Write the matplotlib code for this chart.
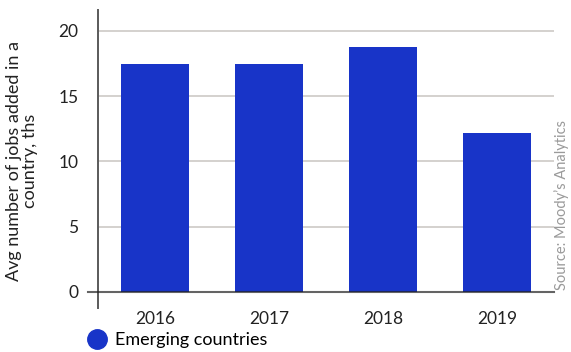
import matplotlib
matplotlib.use('Agg')
from matplotlib import pyplot as plt
from matplotlib.lines import Line2D

plt.rcParams['font.family'] = ['Lato', 'DejaVu Sans']

years = ['2016', '2017', '2018', '2019']
jobs_added = [17.5, 17.5, 18.8, 12.2]
y_ticks = [0, 5, 10, 15, 20]

bar_color = '#1834c8'
grid_color = '#c9c5c1'
axis_color = '#5a5a5a'

fig = plt.figure(figsize=(5.71, 3.52), dpi=100)
ax = fig.add_axes([0.1716, 0.125, 0.7984, 0.8466])

x = list(range(len(years)))
ax.bar(x, jobs_added, width=0.59, color=bar_color, zorder=2)

ax.set_xlim(-0.5, 3.5)
ax.set_ylim(-1.23, 21.6)

# horizontal grid, zero line on top of the bars and a bit past the spine
for v in y_ticks[1:]:
    ax.axhline(v, color=grid_color, lw=1.1, zorder=1)
ax.plot([-0.59, 3.5], [0, 0], color='#222222', alpha=0.7, lw=1.5,
        zorder=3, clip_on=False)

for s in ['top', 'right', 'bottom']:
    ax.spines[s].set_visible(False)
ax.spines['left'].set_color(axis_color)
ax.spines['left'].set_linewidth(1.4)

ax.set_yticks(y_ticks)
ax.set_xticks(x)
ax.set_xticklabels(years)
ax.tick_params(axis='y', length=0, pad=14, labelsize=12.5, labelcolor='#222222')
ax.tick_params(axis='x', length=0, pad=2, labelsize=12.5, labelcolor='#222222')

fig.text(0.038, 0.543, 'Avg number of jobs added in a\ncountry, ths', rotation=90,
         ha='center', va='center', fontsize=13, color='#222222', linespacing=1.0)
fig.text(0.983, 0.418, "Source: Moody\u2019s Analytics", rotation=90,
         ha='center', va='center', fontsize=10.5, color='#9a9a9a')

handle = Line2D([], [], marker='o', ls='none', markersize=14,
                markerfacecolor=bar_color, markeredgecolor=bar_color)
fig.legend([handle], ['Emerging countries'], loc='center left',
           bbox_to_anchor=(0.138, 0.034), frameon=False, fontsize=13,
           handletextpad=0.0, borderaxespad=0, borderpad=0)

fig.savefig('out.png', dpi=100)
